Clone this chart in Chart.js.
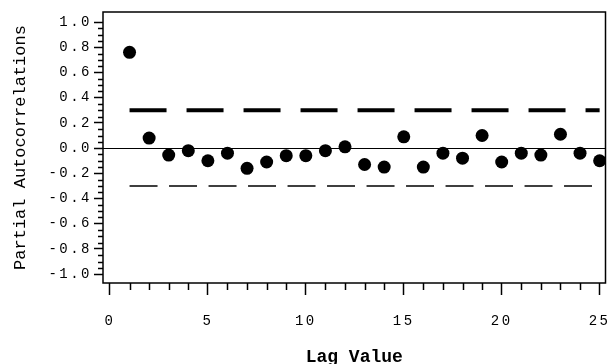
<!DOCTYPE html>
<html>
<head>
<meta charset="utf-8">
<script src="https://cdn.jsdelivr.net/npm/chart.js@4.4.0/dist/chart.umd.min.js"></script>
<style>
  html, body { margin: 0; padding: 0; background: #fff; }
  #wrap { width: 612px; height: 364px; }
</style>
</head>
<body>
<div id="wrap"><canvas id="chart" width="612" height="364"></canvas></div>
<script>
// Datos (PACF por retardo)
const lags = [1, 2, 3, 4, 5, 6, 7, 8, 9, 10, 11, 12, 13, 14, 15, 16, 17, 18, 19, 20, 21, 22, 23, 24, 25];
const pacf = [0.76, 0.08, -0.055, -0.02, -0.10, -0.04, -0.16, -0.11, -0.06, -0.06, -0.02, 0.01, -0.13,
              -0.15, 0.09, -0.15, -0.04, -0.08, 0.10, -0.11, -0.04, -0.055, 0.11, -0.04, -0.10];
const upperLimit = 0.30;
const lowerLimit = -0.30;
const xTickLabels = ['0', '5', '10', '15', '20', '25'];
const yTickLabels = ['-1.0', '-0.8', '-0.6', '-0.4', '-0.2', '0.0', '0.2', '0.4', '0.6', '0.8', '1.0'];

const monoFont = "'Liberation Mono', 'DejaVu Sans Mono', monospace";

// Marco del area y marcas menores de los ejes
const marcoPlugin = {
    id: 'marco',
    beforeDraw(chart) {
        chart.ctx.letterSpacing = '0px';
    },
    afterDatasetsDraw(chart) {
        // las etiquetas de los ejes se dibujan despues (ticks.z = 1), mas espaciadas
        chart.ctx.letterSpacing = '2.5px';
    },
    afterDraw(chart) {
        const ctx = chart.ctx;
        const area = chart.chartArea;
        const xs = chart.scales.x;
        const ys = chart.scales.y;
        ctx.save();
        ctx.letterSpacing = '0px';
        ctx.strokeStyle = '#000';
        ctx.lineWidth = 1.5;
        ctx.strokeRect(area.left, area.top, area.right - area.left, area.bottom - area.top);

        ctx.beginPath();
        for (let v = 0; v <= 25; v++) {
            if (v % 5 === 0) continue;
            const px = Math.round(xs.getPixelForValue(v)) + 0.5;
            ctx.moveTo(px, area.bottom);
            ctx.lineTo(px, area.bottom + 7);
        }
        for (let k = -20; k <= 20; k++) {
            if (k % 4 === 0) continue;
            const py = Math.round(ys.getPixelForValue(k * 0.05)) + 0.5;
            ctx.moveTo(area.left, py);
            ctx.lineTo(area.left - 5, py);
        }
        ctx.stroke();
        ctx.restore();
    }
};

const ctx = document.getElementById('chart').getContext('2d');

new Chart(ctx, {
    type: 'scatter',
    data: {
        datasets: [
            {
                label: 'PACF',
                data: lags.map((l, i) => ({ x: l, y: pacf[i] })),
                backgroundColor: '#000',
                borderColor: '#000',
                borderWidth: 0,
                pointRadius: 6.5,
                pointHoverRadius: 6.5,
                showLine: false
            },
            {
                label: 'Limite superior',
                data: [{ x: lags[0], y: upperLimit }, { x: lags[lags.length - 1], y: upperLimit }],
                showLine: true,
                borderColor: '#000',
                borderWidth: 4,
                borderDash: [37, 20],
                borderCapStyle: 'butt',
                pointRadius: 0
            },
            {
                label: 'Limite inferior',
                data: [{ x: lags[0], y: lowerLimit }, { x: lags[lags.length - 1], y: lowerLimit }],
                showLine: true,
                borderColor: '#000',
                borderWidth: 1.5,
                borderDash: [28, 11.5],
                borderCapStyle: 'butt',
                pointRadius: 0
            }
        ]
    },
    options: {
        responsive: false,
        animation: false,
        layout: { padding: { top: 12, right: 3, left: 0, bottom: 0 } },
        plugins: {
            legend: { display: false },
            tooltip: { enabled: false }
        },
        scales: {
            x: {
                type: 'linear',
                min: -0.355,
                max: 25.3,
                afterBuildTicks: scale => {
                    scale.ticks = xTickLabels.map(t => ({ value: parseFloat(t) }));
                },
                afterFit: scale => {
                    scale.height = 81;
                    scale.paddingLeft = 0;
                    scale.paddingRight = 0;
                },
                border: { display: false },
                grid: {
                    drawOnChartArea: false,
                    drawTicks: true,
                    tickLength: 12,
                    tickColor: '#000',
                    tickWidth: 1.5
                },
                ticks: {
                    z: 1,
                    padding: 18,
                    color: '#000',
                    font: { family: monoFont, size: 14 },
                    maxRotation: 0,
                    callback: (value) => String(value)
                },
                title: {
                    display: true,
                    text: 'Lag Value',
                    color: '#000',
                    font: { family: monoFont, size: 18, weight: 'bold', lineHeight: 1 },
                    padding: { top: 0, bottom: -2 }
                }
            },
            y: {
                type: 'linear',
                min: -1.07,
                max: 1.08,
                afterBuildTicks: scale => {
                    scale.ticks = yTickLabels.map(t => ({ value: parseFloat(t) }));
                },
                afterFit: scale => {
                    scale.width = 103;
                    scale.paddingTop = 0;
                    scale.paddingBottom = 0;
                },
                border: { display: false },
                grid: {
                    drawOnChartArea: true,
                    color: c => (c.tick && c.tick.value === 0 ? '#000' : 'rgba(0,0,0,0)'),
                    lineWidth: 1,
                    drawTicks: true,
                    tickLength: 9,
                    tickColor: '#000',
                    tickWidth: 1.5
                },
                ticks: {
                    z: 1,
                    padding: 2,
                    color: '#000',
                    font: { family: monoFont, size: 14 },
                    callback: (value) => value.toFixed(1)
                },
                title: {
                    display: true,
                    text: 'Partial Autocorrelations',
                    color: '#000',
                    font: { family: monoFont, size: 17 },
                    padding: { top: 10, bottom: 0 }
                }
            }
        }
    },
    plugins: [marcoPlugin]
});
</script>
</body>
</html>
